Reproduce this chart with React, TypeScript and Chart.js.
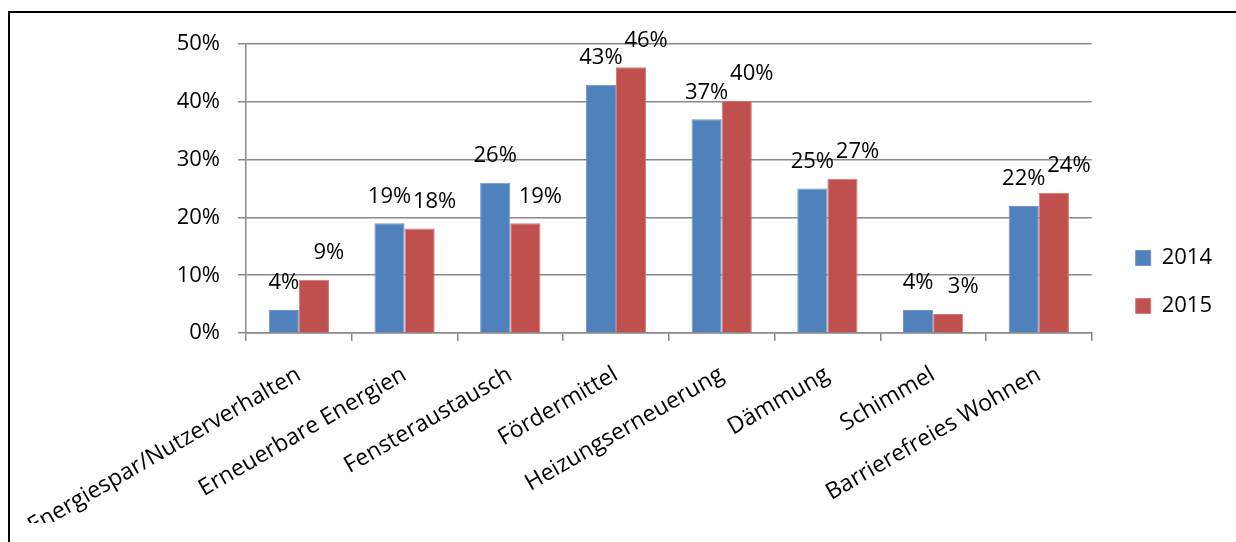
import React, { useEffect, useRef } from 'react';
import { Chart, registerables } from 'chart.js';

Chart.register(...registerables);

const categories = [
  'Energiespar/Nutzerverhalten',
  'Erneuerbare Energien',
  'Fensteraustausch',
  'Fördermittel',
  'Heizungserneuerung',
  'Dämmung',
  'Schimmel',
  'Barrierefreies Wohnen',
];
const seriesLabels = ['2014', '2015'];
const values2014 = [4, 19, 26, 43, 37, 25, 4, 22];
const values2015 = [9.2, 18.1, 19, 46, 40.2, 26.7, 3.3, 24.3];
const yTickStep = 10;
const yMax = 50;

const FONT = "'Open Sans', sans-serif";

const barValueLabels = {
  id: 'barValueLabels',
  afterDatasetsDraw(chart: any) {
    const ctx = chart.ctx;
    ctx.save();
    ctx.font = `22px ${FONT}`;
    ctx.fillStyle = '#000';
    ctx.textAlign = 'center';
    ctx.textBaseline = 'middle';
    chart.data.datasets.forEach((ds: any, di: number) => {
      const meta = chart.getDatasetMeta(di);
      const dx = di === 1 ? 15 : 0;
      meta.data.forEach((bar: any, i: number) => {
        const v = ds.data[i];
        ctx.fillText(Math.round(v) + '%', bar.x + dx, bar.y - 27);
      });
    });
    ctx.restore();
  },
};

export default function App() {
  const canvasRef = useRef<HTMLCanvasElement | null>(null);

  useEffect(() => {
    if (!canvasRef.current) return;
    const gridColor = '#898989';
    const chart = new Chart(canvasRef.current, {
      type: 'bar',
      data: {
        labels: categories,
        datasets: [
          {
            label: seriesLabels[0],
            data: values2014,
            backgroundColor: '#4F81BD',
            borderColor: '#6f96c8',
            borderWidth: 1,
            categoryPercentage: 0.57,
            barPercentage: 1,
          },
          {
            label: seriesLabels[1],
            data: values2015,
            backgroundColor: '#C0504D',
            borderColor: '#d57a77',
            borderWidth: 1,
            categoryPercentage: 0.57,
            barPercentage: 1,
          },
        ],
      },
      options: {
        animation: false,
        responsive: true,
        maintainAspectRatio: false,
        layout: { padding: { top: 28, left: 166, right: 6, bottom: 30 } },
        plugins: {
          legend: {
            position: 'right',
            align: 'center',
            labels: {
              boxWidth: 15,
              boxHeight: 15,
              padding: 26,
              color: '#000',
              font: { family: FONT, size: 22 },
            },
          },
          tooltip: { enabled: false },
        },
        scales: {
          x: {
            grid: {
              drawOnChartArea: false,
              offset: true,
              tickLength: 8,
              color: gridColor,
              lineWidth: 1.5,
            },
            border: { color: gridColor, width: 1.5 },
            ticks: {
              minRotation: 30,
              maxRotation: 30,
              autoSkip: false,
              padding: 20,
              color: '#000',
              font: { family: FONT, size: 23 },
            },
            afterFit: (s: any) => {
              s.height = 190;
              s.paddingLeft = 0;
              s.paddingRight = 0;
            },
          },
          y: {
            min: 0,
            max: yMax,
            ticks: {
              stepSize: yTickStep,
              padding: 18,
              color: '#000',
              font: { family: FONT, size: 22 },
              callback: (v: any) => v + '%',
            },
            grid: { color: gridColor, lineWidth: 1.5, tickLength: 8 },
            border: { color: gridColor, width: 1.5 },
            afterFit: (s: any) => {
              s.width = 70;
            },
          },
          ySpacer: {
            position: 'right',
            display: true,
            grid: { display: false },
            border: { display: false },
            ticks: { display: false },
            afterFit: (s: any) => {
              s.width = 18;
            },
          },
        },
      },
      plugins: [barValueLabels],
    } as any);
    return () => chart.destroy();
  }, []);

  return (
    <div style={{ position: 'fixed', left: 0, top: 0, right: 0, bottom: 0, overflow: 'hidden', background: '#fff' }}>
      <div
        style={{
          position: 'absolute',
          left: 8,
          top: 11,
          width: 1240,
          height: 560,
          border: '2px solid #000',
          background: '#fff',
        }}
      >
        <div style={{ position: 'relative', width: 1218, height: 540 }}>
          <canvas ref={canvasRef} />
        </div>
      </div>
    </div>
  );
}
